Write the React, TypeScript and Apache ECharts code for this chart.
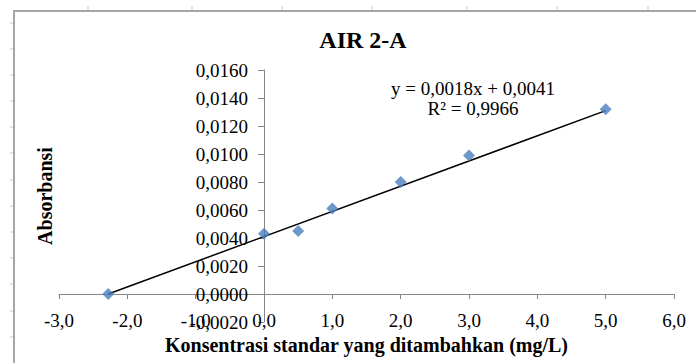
import React, { useEffect, useRef } from "react";
import * as echarts from "echarts";

// Data
const concentrations: number[] = [-2.28, 0, 0.5, 1, 2, 3, 5];
const absorbances: number[] = [0.0, 0.0043, 0.0045, 0.0061, 0.008, 0.0099, 0.0132];
const trendX: number[] = [-2.28, 5.0];
const trendY: number[] = [0.0, 0.0131];
const chartTitle = "AIR 2-A";
const xAxisTitle = "Konsentrasi standar yang ditambahkan (mg/L)";
const yAxisTitle = "Absorbansi";
const equationLines: string[] = ["y = 0,0018x + 0,0041", "R² = 0,9966"];

const FONT = "'Liberation Serif', 'Times New Roman', serif";

const X_MIN = -3;
const X_MAX = 6;
const Y_MIN = -0.002;
const Y_MAX = 0.016;
const GRID = { left: 59, right: 22, top: 70, bottom: 41 };
const W = 696;
const H = 363;

export default function App() {
  const ref = useRef<HTMLDivElement>(null);

  useEffect(() => {
    if (!ref.current) return;
    const chart = echarts.init(ref.current, undefined, { renderer: "svg" });

    // where the zero lines fall, so the axes can sit on them (labels included)
    const plotW = W - GRID.left - GRID.right;
    const plotH = H - GRID.top - GRID.bottom;
    const yAxisOffset = -((0 - X_MIN) / (X_MAX - X_MIN)) * plotW;
    const xAxisOffset = -((0 - Y_MIN) / (Y_MAX - Y_MIN)) * plotH;

    const topTicks = [88, 192, 282, 372, 467, 557, 648];
    const leftTicks = [23, 49, 75, 101, 127, 153, 180, 206, 232, 258, 284, 311, 337];
    const deco: any[] = [];
    topTicks.forEach((x) =>
      deco.push({ type: "line", shape: { x1: x, y1: 6, x2: x, y2: 11 }, style: { stroke: "#c8c8c8", lineWidth: 1 }, silent: true })
    );
    leftTicks.forEach((y) =>
      deco.push({ type: "line", shape: { x1: 10, y1: y, x2: 14, y2: y }, style: { stroke: "#c8c8c8", lineWidth: 1 }, silent: true })
    );
    deco.push({
      type: "rect",
      shape: { x: 14, y: 11, width: 700, height: 370 },
      style: { fill: "none", stroke: "#a6a6a6", lineWidth: 2 },
      silent: true,
    });
    equationLines.forEach((t, i) =>
      deco.push({
        type: "text",
        x: 473,
        y: 88 + i * 20,
        style: { text: t, font: `19px ${FONT}`, fill: "#000", align: "center", verticalAlign: "middle" },
      })
    );

    const option: any = {
      animation: false,
      backgroundColor: "#ffffff",
      title: {
        text: chartTitle,
        left: 358,
        top: 23,
        textAlign: "center",
        textStyle: { fontFamily: FONT, fontSize: 24, fontWeight: "bold", color: "#000" },
      },
      grid: { ...GRID, containLabel: false, outerBoundsMode: "none" },
      xAxis: {
        type: "value",
        min: X_MIN,
        max: X_MAX,
        interval: 1,
        offset: xAxisOffset,
        name: xAxisTitle,
        nameLocation: "middle",
        nameGap: 33,
        nameTextStyle: { fontFamily: FONT, fontSize: 20, fontWeight: "bold", color: "#000" },
        axisLine: { onZero: false, lineStyle: { color: "#868686", width: 1 } },
        axisTick: { show: true, length: 5, lineStyle: { color: "#868686" } },
        axisLabel: {
          margin: 17,
          fontFamily: FONT,
          fontSize: 19,
          color: "#000",
          formatter: (v: number) => v.toFixed(1).replace(".", ","),
        },
        splitLine: { show: false },
      },
      yAxis: {
        type: "value",
        min: Y_MIN,
        max: Y_MAX,
        interval: 0.002,
        offset: yAxisOffset,
        name: yAxisTitle,
        nameLocation: "middle",
        nameRotate: 90,
        nameGap: 209,
        nameTextStyle: { fontFamily: FONT, fontSize: 20, fontWeight: "bold", color: "#000" },
        axisLine: { show: true, onZero: false, lineStyle: { color: "#868686", width: 1 } },
        axisTick: { show: true, length: 6, lineStyle: { color: "#868686" } },
        axisLabel: {
          margin: 16,
          fontFamily: FONT,
          fontSize: 19,
          color: "#000",
          formatter: (v: number) => v.toFixed(4).replace(".", ","),
        },
        splitLine: { show: false },
      },
      graphic: deco,
      series: [
        {
          type: "line",
          data: trendX.map((x, i) => [x, trendY[i]]),
          showSymbol: false,
          symbol: "none",
          lineStyle: { color: "#000", width: 1.5 },
          z: 3,
        },
        {
          type: "scatter",
          data: concentrations.map((x, i) => [x, absorbances[i]]),
          symbol: "diamond",
          symbolSize: 12,
          itemStyle: { color: "#4A7EBB" },
          z: 4,
        },
      ],
    };
    chart.setOption(option);
    return () => chart.dispose();
  }, []);

  return (
    <div
      ref={ref}
      style={{ position: "fixed", left: 0, top: 0, width: W, height: H, background: "#fff" }}
    />
  );
}
